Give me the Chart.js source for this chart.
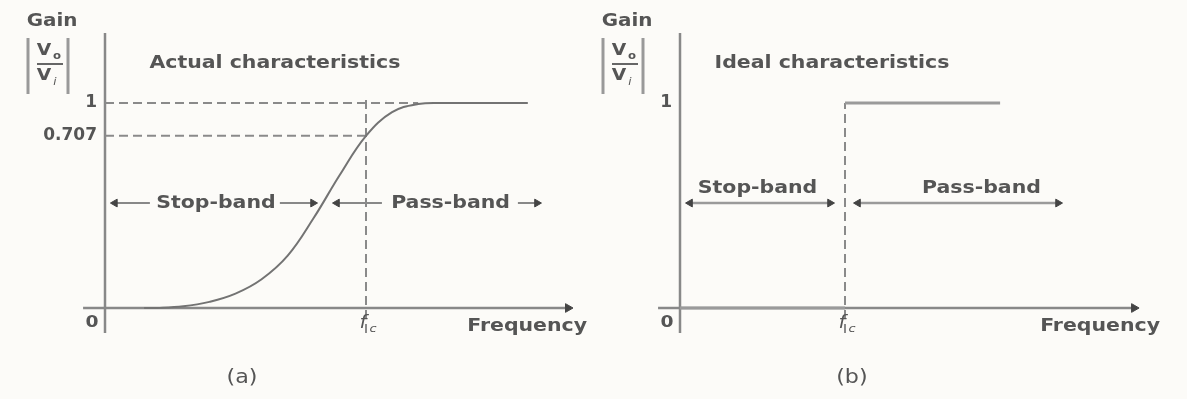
<!DOCTYPE html>
<html>
<head>
<meta charset="utf-8">
<script src="https://cdn.jsdelivr.net/npm/chart.js@4.4.1/dist/chart.umd.min.js"></script>
<style>
    html, body { margin: 0; padding: 0; background: #fcfbf8; }
    #wrap { position: relative; width: 1187px; height: 399px; overflow: hidden; }
    .panel { position: absolute; top: 0; height: 399px; }
    #pa { left: 0; width: 600px; }
    #pb { left: 590px; width: 597px; }
</style>
</head>
<body>
<div id="wrap">
    <div class="panel" id="pa"><canvas id="chartA"></canvas></div>
    <div class="panel" id="pb"><canvas id="chartB"></canvas></div>
</div>
<script>
// valores (frequencia em unidades de fc, ganho na escala do desenho)
const actualFreq = [0.15, 0.2, 0.3, 0.4, 0.5, 0.6, 0.7, 0.8, 0.9, 1.0, 1.1, 1.2, 1.3, 1.62];
const actualGain = [0, 0, 0.008, 0.03, 0.07, 0.14, 0.255, 0.44, 0.65, 0.84, 0.955, 0.995, 1.0, 1.0];

const idealFreq = [0, 1, 1, 1.94];
const idealGain = [0, 0, 1, 1];

const yTickValsA = [0.84, 1];
const yTickLabelsA = ['0.707', '1'];
const yTickValsB = [1];
const yTickLabelsB = ['1'];

// setas das bandas (null = espaco do texto)
const bandLevel = 0.512;
const stopBandA = [0.038, 0.172, null, 0.67, 0.797];
const passBandA = [0.889, 1.061, null, 1.582, 1.655];
const stopBandB = [0.061, 0.909];
const passBandB = [1.079, 2.291];

const LINE = '#888';
const DARK = '#444';
const TXT = '#555';
const STRETCH = 1.17;
const FONT = '"DejaVu Sans"';

function pts(xs, ys) {
    return xs.map(function(x, i) {
        const y = Array.isArray(ys) ? ys[i] : ys;
        return x === null ? { x: null, y: null } : { x: x, y: y };
    });
}

function lineDs(data, extra) {
    return Object.assign({
        data: data,
        borderColor: LINE,
        borderWidth: 2.5,
        pointRadius: 0,
        fill: false,
        tension: 0,
        clip: false
    }, extra || {});
}

function arrowDs(xs, y, extra) {
    const n = xs.length;
    return lineDs(pts(xs, y), Object.assign({
        borderWidth: 2,
        pointStyle: 'triangle',
        pointRadius: function(c) { return (c.dataIndex === 0 || c.dataIndex === n - 1) ? 4.5 : 0; },
        pointRotation: function(c) { return c.dataIndex === 0 ? 270 : 90; },
        pointBackgroundColor: DARK,
        pointBorderColor: DARK,
        pointBorderWidth: 1
    }, extra || {}));
}

function axisDs(xs, ys, rot) {
    const n = xs.length;
    return lineDs(pts(xs, ys), {
        pointStyle: 'triangle',
        pointRadius: function(c) { return c.dataIndex === n - 1 ? 5 : 0; },
        pointRotation: rot,
        pointBackgroundColor: DARK,
        pointBorderColor: DARK,
        pointBorderWidth: 1
    });
}

function dashDs(xs, ys) {
    return lineDs(pts(xs, ys), { borderDash: [9, 5], borderWidth: 2, borderColor: '#8a8a8a' });
}

function texto(ctx, s, px, py, size, align, style) {
    ctx.save();
    ctx.translate(px, py);
    ctx.scale(STRETCH, 1);
    ctx.font = (style || 'bold') + ' ' + size + 'px ' + FONT;
    ctx.fillStyle = TXT;
    ctx.textAlign = align || 'center';
    ctx.textBaseline = 'middle';
    ctx.fillText(s, 0, 0);
    ctx.restore();
}

const labelPlugin = {
    id: 'rotulos',
    afterDatasetsDraw: function(chart, args, opts) {
        const ctx = chart.ctx;
        const sx = chart.scales.x, sy = chart.scales.y;
        const ax = sx.getPixelForValue(0);
        const ay = sy.getPixelForValue(0);
        (opts.items || []).forEach(function(t) {
            texto(ctx, t.text, sx.getPixelForValue(t.x), sy.getPixelForValue(t.y), t.size || 17.5, t.align, t.style);
        });
        // 0 e fc
        texto(ctx, '0', ax - 13, ay + 15, 16);
        const fx = sx.getPixelForValue(1);
        texto(ctx, 'f', fx - 3, ay + 16, 17, 'center', 'italic');
        texto(ctx, 'c', fx + 7, ay + 21, 11, 'center', 'italic');
        // Gain |Vo/Vi|
        texto(ctx, 'Gain', ax - 53, 22, 17);
        ctx.save();
        ctx.strokeStyle = '#999';
        ctx.lineWidth = 3;
        ctx.beginPath();
        ctx.moveTo(ax - 77, 38); ctx.lineTo(ax - 77, 94);
        ctx.moveTo(ax - 37, 38); ctx.lineTo(ax - 37, 94);
        ctx.stroke();
        ctx.strokeStyle = '#666';
        ctx.lineWidth = 2;
        ctx.beginPath();
        ctx.moveTo(ax - 68, 64); ctx.lineTo(ax - 42, 64);
        ctx.stroke();
        ctx.restore();
        texto(ctx, 'V', ax - 61, 51, 16, 'center', 'bold');
        texto(ctx, 'o', ax - 48, 56, 10, 'center', 'bold');
        texto(ctx, 'V', ax - 61, 76, 16, 'center', 'bold');
        texto(ctx, 'i', ax - 50, 82, 10, 'center', 'italic');
    }
};

function baseOptions(xMax, yWidth, padRight, tickVals, tickLabels, items) {
    return {
        responsive: true,
        maintainAspectRatio: false,
        animation: false,
        events: [],
        layout: { padding: { left: 0, right: padRight, top: 82.5, bottom: 91 } },
        plugins: {
            legend: { display: false },
            tooltip: { enabled: false },
            rotulos: { items: items }
        },
        scales: {
            x: { type: 'linear', display: false, min: 0, max: xMax },
            y: {
                type: 'linear',
                min: 0,
                max: 1.1,
                afterFit: function(s) { s.width = yWidth; },
                afterBuildTicks: function(s) { s.ticks = tickVals.map(function(v) { return { value: v }; }); },
                ticks: {
                    padding: 8,
                    color: TXT,
                    font: { family: 'DejaVu Sans', size: 17, weight: 'bold' },
                    callback: function(v, i) { return tickLabels[i]; }
                },
                grid: { display: false, drawTicks: false, tickLength: 0 },
                border: { display: false }
            }
        }
    };
}

// (a) caracteristica real
new Chart(document.getElementById('chartA'), {
    type: 'line',
    data: {
        datasets: [
            lineDs(pts(actualFreq, actualGain), { borderColor: '#737373', borderWidth: 2, tension: 0.4 }),
            dashDs([0, 1.2], [1, 1]),
            dashDs([0, 1], [0.84, 0.84]),
            dashDs([1, 1], [-0.122, 1.02]),
            arrowDs(stopBandA, bandLevel),
            arrowDs(passBandA, bandLevel),
            axisDs([-0.084, 1.774], [0, 0], 90),
            axisDs([0, 0], [-0.122, 1.341], 0)
        ]
    },
    options: baseOptions(1.8, 105, 25.2, yTickValsA, yTickLabelsA, [
        { text: 'Actual characteristics', x: 0.651, y: 1.195 },
        { text: 'Stop-band', x: 0.425, y: bandLevel },
        { text: 'Pass-band', x: 1.324, y: bandLevel },
        { text: 'Frequency', x: 1.847, y: -0.088, align: 'right' },
        { text: '(a)', x: 0.525, y: -0.341, size: 19, style: 'normal' }
    ]),
    plugins: [labelPlugin]
});

// (b) caracteristica ideal
new Chart(document.getElementById('chartB'), {
    type: 'line',
    data: {
        datasets: [
            lineDs(pts(idealFreq, idealGain), {
                borderColor: '#9a9a9a',
                borderWidth: 3,
                segment: {
                    borderColor: function(c) { return c.p0.parsed.x === c.p1.parsed.x ? 'rgba(0,0,0,0)' : undefined; }
                }
            }),
            dashDs([1, 1], [-0.122, 1]),
            arrowDs(stopBandB, bandLevel, { borderColor: '#9a9a9a', borderWidth: 2.5 }),
            arrowDs(passBandB, bandLevel, { borderColor: '#9a9a9a', borderWidth: 2.5 }),
            axisDs([-0.133, 2.752], [0, 0], 90),
            axisDs([0, 0], [-0.122, 1.341], 0)
        ]
    },
    options: baseOptions(2.8, 90, 45, yTickValsB, yTickLabelsB, [
        { text: 'Ideal characteristics', x: 0.921, y: 1.195 },
        { text: 'Stop-band', x: 0.47, y: 0.585 },
        { text: 'Pass-band', x: 1.827, y: 0.585 },
        { text: 'Frequency', x: 2.909, y: -0.088, align: 'right' },
        { text: '(b)', x: 1.042, y: -0.341, size: 19, style: 'normal' }
    ]),
    plugins: [labelPlugin]
});
</script>
</body>
</html>
